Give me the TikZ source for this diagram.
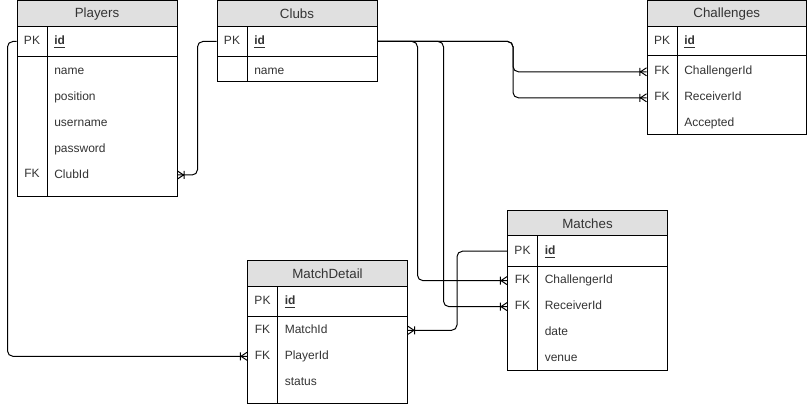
\documentclass[tikz,border=0pt]{standalone}
\usepackage{fontspec}
\setmainfont{Liberation Sans}
\usetikzlibrary{fit}
\definecolor{hdrgray}{HTML}{E0E0E0}
\definecolor{txtgray}{HTML}{333333}
% crow's foot with bar (one or many)
\pgfdeclarearrow{
  name=crowfoot,
  setup code={
    \pgfarrowssettipend{0pt}
    \pgfarrowssetlineend{0pt}
    \pgfarrowssetbackend{-5.5pt}
    \pgfarrowssetvisualbackend{-5.5pt}
    \pgfarrowsupperhullpoint{0pt}{3pt}
    \pgfarrowsupperhullpoint{-5.5pt}{3pt}
  },
  drawing code={
    \pgfsetdash{}{0pt}
    \pgfpathmoveto{\pgfqpoint{0pt}{3pt}}
    \pgfpathlineto{\pgfqpoint{-4.5pt}{0pt}}
    \pgfpathlineto{\pgfqpoint{0pt}{-3pt}}
    \pgfpathmoveto{\pgfqpoint{-5pt}{3pt}}
    \pgfpathlineto{\pgfqpoint{-5pt}{-3pt}}
    \pgfusepathqstroke
  }
}
\begin{document}
\begin{tikzpicture}[x=0.75pt,y=-0.75pt,font=\fontsize{9}{11}\selectfont,
  box/.style={draw=black,line width=0.75pt,inner sep=0pt},
  hdr/.style={box,fill=hdrgray},
  ttl/.style={inner sep=0pt,text=txtgray,font=\fontsize{10}{12}\selectfont},
  fld/.style={anchor=west,inner sep=0pt,text=txtgray,text height=6.6pt,text depth=1.9pt,yshift=-0.6pt},
  kfld/.style={inner sep=0pt,text=txtgray,text height=6.6pt,text depth=1.9pt,yshift=-0.6pt},
  conn/.style={draw=black,line width=0.75pt,rounded corners=4pt,-crowfoot}]
  \useasboundingbox (0,0) rectangle (808,406);
  % Players
  \node[hdr,fit={(17,1) (177,26.5)}] (pl) {};
  \node[ttl] at (pl.center) {Players};
  \node[box,fit={(17,26.5) (177,56.5)}] (plk) {};
  \node[box,fit={(17,56.5) (177,196.5)}] (plb) {};
  \draw[line width=0.75pt] (47,26.5) -- (47,196.5);
  \node[kfld] at (32,41) {PK};
  \node[fld] at (54,41) {\underline{\textbf{id}}};
  \foreach \t [count=\i] in {name,position,username,password,ClubId}
    \node[fld] (pl\i) at (54,{45.2+25.8*\i}) {\t};
  \node[kfld] at (32,174) {FK};
  % Clubs
  \node[hdr,fit={(217,1) (377,26.5)}] (cl) {};
  \node[ttl] at (cl.center) {Clubs};
  \node[box,fit={(217,26.5) (377,56.5)}] (clk) {};
  \node[box,fit={(217,56.5) (377,82)}] (clb) {};
  \draw[line width=0.75pt] (247,26.5) -- (247,82);
  \node[kfld] at (232,41) {PK};
  \node[fld] at (254,41) {\underline{\textbf{id}}};
  \node[fld] (cl1) at (254,71) {name};
  % Challenges
  \node[hdr,fit={(647,1) (806.5,26.5)}] (ch) {};
  \node[ttl] at (ch.center) {Challenges};
  \node[box,fit={(647,26.5) (806.5,56)}] (chk) {};
  \node[box,fit={(647,56) (806.5,134.5)}] (chb) {};
  \draw[line width=0.75pt] (677,26.5) -- (677,134.5);
  \node[kfld] at (662,41) {PK};
  \node[fld] at (684,41) {\underline{\textbf{id}}};
  \foreach \t [count=\i] in {ChallengerId,ReceiverId,Accepted}
    \node[fld] (ch\i) at (684,{45+26*\i}) {\t};
  \node[kfld] at (662,71) {FK};
  \node[kfld] at (662,97) {FK};
  % Matches
  \node[hdr,fit={(507.5,210.5) (667.5,236)}] (ma) {};
  \node[ttl] at (ma.center) {Matches};
  \node[box,fit={(507.5,236) (667.5,266.5)}] (mak) {};
  \node[box,fit={(507.5,266.5) (667.5,370.5)}] (mab) {};
  \draw[line width=0.75pt] (537.5,236) -- (537.5,370.5);
  \node[kfld] at (522.5,251) {PK};
  \node[fld] at (544.5,251) {\underline{\textbf{id}}};
  \foreach \t [count=\i] in {ChallengerId,ReceiverId,date,venue}
    \node[fld] (ma\i) at (544.5,{253.8+26*\i}) {\t};
  \node[kfld] at (522.5,279.8) {FK};
  \node[kfld] at (522.5,305.8) {FK};
  % MatchDetail
  \node[hdr,fit={(247.5,260.5) (407.5,286.5)}] (md) {};
  \node[ttl] at (md.center) {MatchDetail};
  \node[box,fit={(247.5,286.5) (407.5,316.5)}] (mdk) {};
  \node[box,fit={(247.5,316.5) (407.5,404)}] (mdb) {};
  \draw[line width=0.75pt] (277.5,286.5) -- (277.5,404);
  \node[kfld] at (262.5,301) {PK};
  \node[fld] at (284.5,301) {\underline{\textbf{id}}};
  \foreach \t [count=\i] in {MatchId,PlayerId,status}
    \node[fld] (md\i) at (284.5,{303.5+26*\i}) {\t};
  \node[kfld] at (262.5,329.5) {FK};
  \node[kfld] at (262.5,355.5) {FK};
  % relations
  \draw[conn] (plk.west) -- ++(-9,0) |- (mdb.west |- md2);
  \draw[conn] (clk.west) -- ++(-19,0) |- (plb.east |- pl5);
  \draw[conn] (clk.east) -- ++(135.5,0) |- (chb.west |- ch1);
  \draw[conn] (clk.east) -- ++(135.5,0) |- (chb.west |- ch2);
  \draw[conn] (clk.east) -- ++(40,0) |- (mab.west |- ma1);
  \draw[conn] (clk.east) -- ++(66,0) |- (mab.west |- ma2);
  \draw[conn] (mak.west) -- ++(-50,0) |- (mdb.east |- md1);
\end{tikzpicture}
\end{document}
